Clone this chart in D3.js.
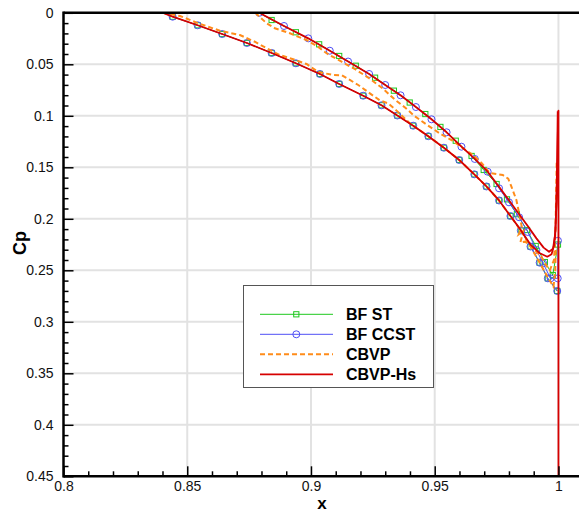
<!DOCTYPE html>
<html><head><meta charset="utf-8">
<script src="https://cdn.jsdelivr.net/npm/d3@7"></script>
<style>
html,body{margin:0;padding:0;background:#fff;}
svg{display:block;font-family:"Liberation Sans",Arial,Helvetica,sans-serif;}
</style></head>
<body>
<svg id="chart" width="580" height="514"></svg>
<script>
// ---------- data ----------
const xTickValues = [0.8, 0.85, 0.9, 0.95, 1.0];
const xTickLabels = ["0.8", "0.85", "0.9", "0.95", "1"];
const yTickValues = [0, 0.05, 0.1, 0.15, 0.2, 0.25, 0.3, 0.35, 0.4, 0.45];
const yTickLabels = ["0", "0.05", "0.1", "0.15", "0.2", "0.25", "0.3", "0.35", "0.4", "0.45"];
const seriesNames = ["BF ST", "BF CCST", "CBVP", "CBVP-Hs"];

// BF CCST (circles)
const ccstLowerX = [0.8403,0.8441,0.8542,0.8641,0.8741,0.8841,0.8939,0.9036,0.9114,0.9211,0.9285,0.9349,0.9413,0.9474,0.9537,0.9599,0.9660,0.9709,0.9760,0.9806,0.9848,0.9887,0.9924,0.9957,0.9995];
const ccstLowerCp = [0.0,0.0038,0.0121,0.0206,0.0293,0.0390,0.0490,0.0594,0.0691,0.0805,0.0898,0.0997,0.1096,0.1198,0.1310,0.1429,0.1568,0.1686,0.1822,0.1973,0.2114,0.2269,0.2426,0.2578,0.2701];
const ccstUpperX = [0.8791,0.8891,0.8989,0.9076,0.9150,0.9235,0.9300,0.9362,0.9424,0.9487,0.9548,0.9608,0.9662,0.9714,0.9760,0.9800,0.9841,0.9876,0.9911,0.9938,0.9968,0.9997,0.9998];
const ccstUpperCp = [0.0,0.0128,0.0248,0.0368,0.0473,0.0594,0.0701,0.0801,0.0915,0.1034,0.1160,0.1300,0.1419,0.1543,0.1704,0.1840,0.1985,0.2128,0.2303,0.2432,0.2578,0.2578,0.2213];

// BF ST (squares)
const stLowerX = ccstLowerX.slice();
const stLowerCp = ccstLowerCp.slice();
const stUpperX = [0.8791,0.8841,0.8939,0.9033,0.9114,0.9181,0.9259,0.9335,0.9399,0.9462,0.9523,0.9585,0.9649,0.9698,0.9750,0.9792,0.9832,0.9873,0.9908,0.9945,0.9977,0.9998];
const stUpperCp = [0.0,0.0070,0.0189,0.0306,0.0419,0.0514,0.0630,0.0756,0.0871,0.0983,0.1108,0.1242,0.1390,0.1526,0.1662,0.1811,0.1955,0.2109,0.2264,0.2420,0.2546,0.2250];

// CBVP (orange dashed)
const cbvpLowerX = [0.8400,0.8471,0.8545,0.8632,0.8713,0.8773,0.8821,0.8874,0.8928,0.8982,0.9029,0.9090,0.9124,0.9157,0.9191,0.9238,0.9278,0.9312,0.9346,0.9400,0.9474,0.9537,0.9599,0.9660,0.9709,0.9760,0.9806,0.9848,0.9887,0.9924,0.9957,0.9980,0.9987,0.9989];
const cbvpLowerCp = [0.0,0.0031,0.0102,0.0174,0.0216,0.0281,0.0345,0.0410,0.0451,0.0497,0.0575,0.0604,0.0606,0.0652,0.0701,0.0782,0.0850,0.0880,0.0950,0.1075,0.1198,0.1310,0.1429,0.1568,0.1686,0.1822,0.1973,0.2114,0.2269,0.2426,0.2570,0.2660,0.2500,0.2300];
const cbvpUpperX = [0.8775,0.8821,0.8854,0.8915,0.8947,0.8982,0.9028,0.9063,0.9120,0.9180,0.9235,0.9290,0.9340,0.9380,0.9420,0.9470,0.9520,0.9568,0.9615,0.9655,0.9690,0.9722,0.9750,0.9775,0.9797,0.9810,0.9830,0.9844,0.9852,0.9840,0.9858,0.9846,0.9866,0.9896,0.9931,0.9945,0.9965,0.9982,0.9988,0.9991,0.9993];
const cbvpUpperCp = [0.0,0.0102,0.0150,0.0199,0.0232,0.0264,0.0329,0.0393,0.0470,0.0550,0.0635,0.0735,0.0845,0.0920,0.1005,0.1090,0.1170,0.1235,0.1316,0.1381,0.1460,0.1555,0.1565,0.1575,0.1610,0.1688,0.1817,0.1980,0.2080,0.2150,0.2120,0.2230,0.2222,0.2283,0.2368,0.2432,0.2500,0.2400,0.2110,0.1720,0.1430];

// CBVP-Hs (red)
const hsLowerX = [0.8403,0.8441,0.8542,0.8641,0.8741,0.8841,0.8939,0.9036,0.9114,0.9211,0.9285,0.9349,0.9413,0.9474,0.9537,0.9599,0.9660,0.9709,0.9760,0.9806,0.9848,0.9887,0.9925,0.9955,0.9972,0.9982,0.9988,0.9992,0.9995,0.9997];
const hsLowerCp = [0.0,0.0038,0.0121,0.0206,0.0293,0.0390,0.0490,0.0594,0.0691,0.0805,0.0898,0.0997,0.1096,0.1198,0.1310,0.1429,0.1568,0.1686,0.1822,0.1973,0.2110,0.2250,0.2335,0.2368,0.2345,0.2260,0.2100,0.1800,0.1400,0.0955];
const hsUpperX = [0.8791,0.8891,0.8989,0.9076,0.9150,0.9235,0.9300,0.9362,0.9424,0.9487,0.9548,0.9608,0.9662,0.9714,0.9760,0.9800,0.9841,0.9876,0.9911,0.9940,0.9962,0.9978,0.9987,0.9992,0.9996,0.9998,1.0,1.0];
const hsUpperCp = [0.0,0.0128,0.0248,0.0368,0.0473,0.0594,0.0701,0.0801,0.0915,0.1034,0.1160,0.1300,0.1419,0.1543,0.1690,0.1820,0.1955,0.2070,0.2190,0.2280,0.2320,0.2290,0.2150,0.1850,0.1400,0.1100,0.0950,0.4500];

// ---------- layout ----------
const L = 63.5, R = 579, T = 12.8, B = 476.3;
const x = d3.scaleLinear().domain([0.8, 1.0083]).range([L, R]);
const y = d3.scaleLinear().domain([0, 0.45]).range([T, B]);

const svg = d3.select("#chart");
const zip = (xs, ys) => xs.map((v, i) => [v, ys[i]]);

const colors = { st: "#1ec81e", ccst: "#4f4ff5", cbvp: "#ff8c1a", hs: "#d60000" };

// gridlines
const grid = svg.append("g");
grid.selectAll("line.gx").data(xTickValues.slice(1)).join("line")
  .attr("x1", d => x(d)).attr("x2", d => x(d)).attr("y1", T).attr("y2", B)
  .attr("stroke", "#e2e2e2").attr("stroke-width", 2);
grid.selectAll("line.gy").data(yTickValues.slice(1, -1)).join("line")
  .attr("x1", L).attr("x2", R).attr("y1", d => y(d)).attr("y2", d => y(d))
  .attr("stroke", "#e2e2e2").attr("stroke-width", 2);

// clip
svg.append("clipPath").attr("id", "clip").append("rect")
  .attr("x", L).attr("y", T).attr("width", R - L).attr("height", B - T);
const plot = svg.append("g").attr("clip-path", "url(#clip)");
const line = d3.line().x(d => x(d[0])).y(d => y(d[1]));

// BF ST
[[stLowerX, stLowerCp], [stUpperX, stUpperCp]].forEach(([xs, ys]) => {
  const pts = zip(xs, ys);
  plot.append("path").attr("d", line(pts)).attr("fill", "none")
    .attr("stroke", colors.st).attr("stroke-width", 1);
  plot.append("g").selectAll("rect").data(pts.slice(1)).join("rect")
    .attr("x", d => x(d[0]) - 2.6).attr("y", d => y(d[1]) - 2.6)
    .attr("width", 5.2).attr("height", 5.2)
    .attr("fill", "none").attr("stroke", colors.st).attr("stroke-width", 1);
});
// BF CCST
[[ccstLowerX, ccstLowerCp, 1], [ccstUpperX, ccstUpperCp, 0]].forEach(([xs, ys, skip]) => {
  const pts = zip(xs, ys);
  plot.append("path").attr("d", line(pts)).attr("fill", "none")
    .attr("stroke", colors.ccst).attr("stroke-width", 1);
  plot.append("g").selectAll("circle").data(pts.slice(skip)).join("circle")
    .attr("cx", d => x(d[0])).attr("cy", d => y(d[1])).attr("r", 3.5)
    .attr("fill", "none").attr("stroke", colors.ccst).attr("stroke-width", 1);
});
// CBVP
[[cbvpLowerX, cbvpLowerCp], [cbvpUpperX, cbvpUpperCp]].forEach(([xs, ys]) => {
  plot.append("path").attr("d", line(zip(xs, ys))).attr("fill", "none")
    .attr("stroke", colors.cbvp).attr("stroke-width", 2).attr("stroke-dasharray", "5,3");
});
// CBVP-Hs
[[hsLowerX, hsLowerCp], [hsUpperX, hsUpperCp]].forEach(([xs, ys]) => {
  plot.append("path").attr("d", line(zip(xs, ys))).attr("fill", "none")
    .attr("stroke", colors.hs).attr("stroke-width", 1.8).attr("stroke-linejoin", "round");
});

// axes
const minorX = d3.range(81, 101).map(v => v / 100).filter(v => Math.round(v * 100) % 5 !== 0);
const minorY = d3.range(1, 45).filter(v => v % 5 !== 0).map(v => v / 100);

const gx = svg.append("g").attr("transform", `translate(0,${B})`)
  .call(d3.axisBottom(x).tickValues(xTickValues).tickFormat((d, i) => xTickLabels[i])
    .tickSizeInner(-10).tickSizeOuter(0).tickPadding(5));
const gxm = svg.append("g").attr("transform", `translate(0,${B})`)
  .call(d3.axisBottom(x).tickValues(minorX).tickFormat("").tickSizeInner(-5).tickSizeOuter(0));
const gy = svg.append("g").attr("transform", `translate(${L},0)`)
  .call(d3.axisLeft(y).tickValues(yTickValues).tickFormat((d, i) => yTickLabels[i])
    .tickSizeInner(-10).tickSizeOuter(0).tickPadding(10));
const gym = svg.append("g").attr("transform", `translate(${L},0)`)
  .call(d3.axisLeft(y).tickValues(minorY).tickFormat("").tickSizeInner(-5).tickSizeOuter(0));

[gx, gxm, gy, gym].forEach(g => {
  g.select(".domain").remove();
  g.selectAll(".tick line").attr("stroke", "#000").attr("stroke-width", 1.5);
  g.selectAll(".tick text").attr("fill", "#111").attr("font-size", 14)
    .attr("font-family", "'Liberation Sans', Arial, sans-serif");
});
// axis frame lines
svg.append("line").attr("x1", L).attr("x2", R).attr("y1", B).attr("y2", B)
  .attr("stroke", "#000").attr("stroke-width", 2.5);
svg.append("line").attr("x1", L).attr("x2", R).attr("y1", T).attr("y2", T)
  .attr("stroke", "#000").attr("stroke-width", 2.5);
svg.append("line").attr("x1", L).attr("x2", L).attr("y1", T - 1.25).attr("y2", B + 1.25)
  .attr("stroke", "#000").attr("stroke-width", 2.5);

// axis titles
svg.append("text").attr("transform", "translate(25.5,243) rotate(-90)")
  .attr("text-anchor", "middle").attr("font-weight", "bold").attr("font-size", 18)
  .attr("fill", "#000").text("Cp");
svg.append("text").attr("x", 322).attr("y", 509)
  .attr("text-anchor", "middle").attr("font-weight", "bold").attr("font-size", 17)
  .attr("fill", "#000").text("x");

// legend
const lg = svg.append("g");
lg.append("rect").attr("x", 243.5).attr("y", 285.5).attr("width", 190).attr("height", 102)
  .attr("fill", "#fff").attr("stroke", "#555").attr("stroke-width", 1);
const legendY = [314.3, 334.3, 354.3, 374.3];
const legendStyles = [
  { c: colors.st, dash: null, w: 1, m: "sq" },
  { c: colors.ccst, dash: null, w: 1, m: "ci" },
  { c: colors.cbvp, dash: "5,3", w: 2, m: null },
  { c: colors.hs, dash: null, w: 1.8, m: null }
];
seriesNames.forEach((name, i) => {
  const s = legendStyles[i], yy = legendY[i];
  lg.append("line").attr("x1", 260).attr("x2", 333).attr("y1", yy).attr("y2", yy)
    .attr("stroke", s.c).attr("stroke-width", s.w).attr("stroke-dasharray", s.dash);
  if (s.m === "sq") lg.append("rect").attr("x", 293.7).attr("y", yy - 2.6).attr("width", 5.2).attr("height", 5.2)
    .attr("fill", "none").attr("stroke", s.c);
  if (s.m === "ci") lg.append("circle").attr("cx", 296.3).attr("cy", yy).attr("r", 3.5)
    .attr("fill", "none").attr("stroke", s.c);
  lg.append("text").attr("x", 346).attr("y", yy + 6).attr("font-weight", "bold")
    .attr("font-size", 16).attr("fill", "#000").text(name);
});
</script>
</body></html>
